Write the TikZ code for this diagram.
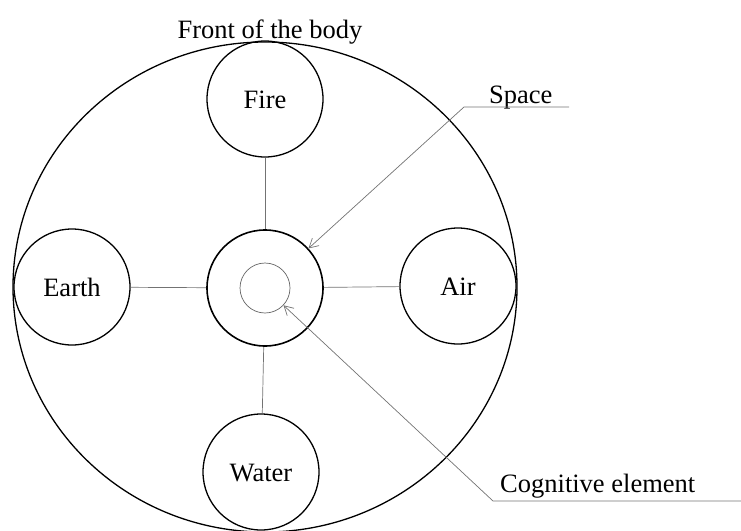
\documentclass[tikz,border=0pt]{standalone}
\usepackage{fontspec}
\setmainfont{Liberation Serif}
\usepackage{tikz}
\usetikzlibrary{arrows.meta,positioning,shapes.geometric}

\begin{document}
\begin{tikzpicture}[
    x=1pt, y=-1pt,
    lbl/.style={font=\fontsize{26.5}{30}\selectfont, inner sep=0pt},
    elem/.style={circle, draw, line width=1.3pt, minimum size=116pt, inner sep=0pt, lbl,
                 text height=18pt, text depth=0pt},
    core/.style={circle, draw, line width=1.6pt, minimum size=116pt, inner sep=0pt},
    cog/.style={circle, draw=black!60, line width=0.7pt, minimum size=50pt, inner sep=0pt},
    link/.style={draw=black!55, line width=0.7pt},
    lead/.style={-{Straight Barb[length=9pt,width=10pt]}, draw=black!55, line width=0.7pt}
  ]
  \useasboundingbox (0,0) rectangle (741,530);
  % outline of the body
  \node[ellipse, draw, line width=1.3pt, minimum width=504pt, minimum height=490pt,
        inner sep=0pt] (body) at (265,287) {};
  \node[lbl, anchor=base] (front) at (270,38) {Front of the body};

  \node[core] (centre) at (265,288) {};
  \node[cog] (mind) at (265,288) {};
  \node[elem] (fire) at (265,99) {Fire};
  \node[elem] (earth) at (72,287) {Earth};
  \node[elem] (air) at (458,286) {Air};
  \node[elem] (water) at (261,472) {Water};

  \draw[link] (fire) -- (centre);
  \draw[link] (earth) -- (centre);
  \draw[link] (air) -- (centre);
  \draw[link] (water) -- (centre);

  % labels with leaders
  \node[lbl, anchor=base west] (space) at (489,103) {Space};
  \coordinate (spaceR) at (569,107);
  \coordinate (spaceL) at (464,107);
  \draw[lead] (spaceR) -- (spaceL) -- (centre);

  \node[lbl, anchor=base west] (cogtext) at (500,492) {Cognitive element};
  \coordinate (cogR) at (741,501);
  \coordinate (cogL) at (493,501);
  \draw[lead] (cogR) -- (cogL) -- (mind);
\end{tikzpicture}
\end{document}
